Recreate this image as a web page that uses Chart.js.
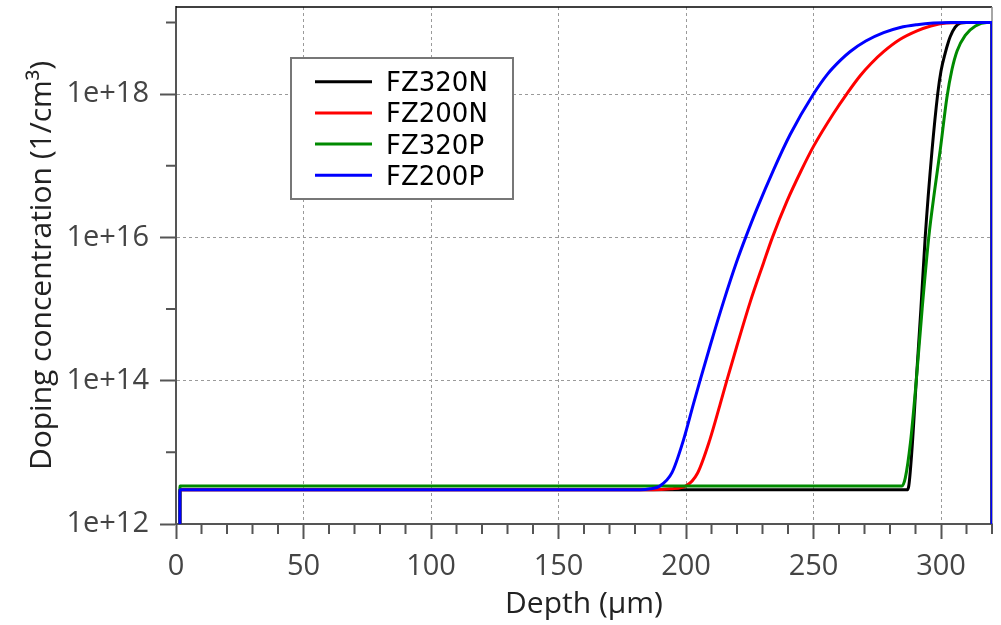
<!DOCTYPE html>
<html>
<head>
<meta charset="utf-8">
<script src="https://cdn.jsdelivr.net/npm/chart.js@4/dist/chart.umd.min.js"></script>
<style>
  body { margin: 0; background: #fff; }
  canvas { display: block; }
</style>
</head>
<body>
<canvas id="chart" width="1001" height="625"></canvas>
<script>
// series names
var seriesNames = ['FZ320N', 'FZ200N', 'FZ320P', 'FZ200P'];

// depth (um) and doping (1/cm3)
var depthFZ320N = [1.5, 1.55, 286.6, 287.3, 288.6, 290.3, 292.1, 293.8, 296.5, 298.7, 300.0, 301.7, 302.8, 303.6, 305.5, 307.6, 310, 319.95, 320];
var dopingFZ320N = [1e11, 3.0e12, 3.0e12, 3.3e12, 1.07e13, 1.0e14, 9.8e14, 1.0e16, 1.66e17, 1.0e18, 2.1e18, 3.8e18, 5.2e18, 6.3e18, 8.5e18, 9.8e18, 1.0e19, 1.0e19, 1e11];

var depthFZ200N = [1.5, 1.55, 187, 194, 200, 204.5, 209.3, 213.4, 216.0, 219.9, 225.2, 230.4, 233.9, 239.6, 245, 250.0, 257.9, 263.0, 268.3, 272.5, 277.5, 284, 290.6, 296, 302, 310, 319.95, 320];
var dopingFZ200N = [1e11, 3.0e12, 3.0e12, 3.1e12, 3.4e12, 5.1e12, 1.48e13, 4.7e13, 1.0e14, 3.0e14, 1.26e15, 4.4e15, 1.0e16, 3.2e16, 8.3e16, 1.86e17, 5.4e17, 1.0e18, 1.8e18, 2.65e18, 3.9e18, 5.8e18, 7.6e18, 8.9e18, 9.8e18, 1.0e19, 1.0e19, 1e11];

var depthFZ320P = [1.5, 1.55, 284.7, 286.0, 288.0, 290.3, 292.6, 295.2, 297.5, 299.7, 302.3, 304.3, 306.3, 309.5, 313.5, 318, 319.95, 320];
var dopingFZ320P = [1e11, 3.4e12, 3.4e12, 4.4e12, 1.35e13, 1.0e14, 1.0e15, 1.0e16, 4.5e16, 1.66e17, 8.9e17, 2.2e18, 4.0e18, 6.6e18, 8.9e18, 1.0e19, 1.0e19, 1e11];

var depthFZ200P = [1.5, 1.55, 182, 186, 189.8, 194.5, 199.0, 202.9, 205.5, 209.5, 214.7, 219.9, 223.4, 227.8, 234.3, 240.9, 250.0, 255.5, 260.5, 264.3, 270.5, 277.5, 284, 290.6, 297, 304, 319.95, 320];
var dopingFZ200P = [1e11, 3.0e12, 3.0e12, 3.1e12, 3.4e12, 5.2e12, 1.48e13, 4.7e13, 1.0e14, 3.1e14, 1.26e15, 4.6e15, 1.0e16, 2.5e16, 8.7e16, 2.75e17, 1.0e18, 1.9e18, 2.95e18, 3.9e18, 5.5e18, 7.2e18, 8.5e18, 9.3e18, 9.8e18, 1.0e19, 1.0e19, 1e11];

// axis ticks
var xTickStep = 50;
var xMinorStep = 10;
var yTickValues = [1e12, 1e14, 1e16, 1e18];
var yTickLabels = ['1e+12', '1e+14', '1e+16', '1e+18'];
var yMinorTicks = [1e13, 1e15, 1e17, 1e19];

var colors = ['#000000', '#ff0000', '#008a00', '#0000ff'];

function toPoints(xs, ys) {
    return xs.map(function(x, i) { return {x: x, y: ys[i]}; });
}

var tickFont = {family: '"Open Sans", sans-serif', size: 29};
var titleFont = {family: '"Open Sans", sans-serif', size: 30};

// frame, minor ticks and the legend box inside the plot
var decorPlugin = {
    id: 'decor',
    beforeDatasetsDraw: function(chart) {
        var ctx = chart.ctx, a = chart.chartArea;
        ctx.save();
        ctx.strokeStyle = '#000';
        ctx.lineWidth = 1.5;
        ctx.beginPath();
        ctx.moveTo(a.left, a.top);
        ctx.lineTo(a.right, a.top);
        ctx.stroke();
        ctx.strokeStyle = '#888';
        ctx.lineWidth = 1.5;
        ctx.beginPath();
        ctx.moveTo(a.right, a.top);
        ctx.lineTo(a.right, a.bottom);
        ctx.stroke();
        ctx.restore();
    },
    afterDraw: function(chart) {
        var ctx = chart.ctx, a = chart.chartArea;
        var xs = chart.scales.x, ys = chart.scales.y;
        ctx.save();
        ctx.strokeStyle = '#555';
        ctx.lineWidth = 2;
        ctx.beginPath();
        for (var v = xMinorStep; v <= xs.max; v += xMinorStep) {
            if (v % xTickStep === 0) continue;
            var px = xs.getPixelForValue(v);
            ctx.moveTo(px, a.bottom);
            ctx.lineTo(px, a.bottom + 10);
        }
        yMinorTicks.forEach(function(t) {
            var py = ys.getPixelForValue(t);
            ctx.moveTo(a.left - 10, py);
            ctx.lineTo(a.left, py);
        });
        ctx.stroke();

        // legend
        var bx = 291, by = 58, bw = 222, bh = 141;
        ctx.fillStyle = '#fff';
        ctx.fillRect(bx, by, bw, bh);
        ctx.strokeStyle = '#777';
        ctx.lineWidth = 2;
        ctx.strokeRect(bx, by, bw, bh);
        ctx.font = '26px "DejaVu Sans", sans-serif';
        ctx.textBaseline = 'alphabetic';
        ctx.textAlign = 'left';
        chart.data.datasets.forEach(function(ds, i) {
            var cy = 81.7 + i * 31.2;
            ctx.strokeStyle = ds.borderColor;
            ctx.lineWidth = 3;
            ctx.beginPath();
            ctx.moveTo(315, cy);
            ctx.lineTo(372, cy);
            ctx.stroke();
            ctx.fillStyle = '#000';
            ctx.fillText(ds.label, 386, cy + 9.5);
        });
        ctx.restore();
    }
};

var ctx = document.getElementById('chart').getContext('2d');
var chart = new Chart(ctx, {
    type: 'line',
    data: {
        datasets: [
            {label: seriesNames[0], data: toPoints(depthFZ320N, dopingFZ320N), borderColor: colors[0], order: 4},
            {label: seriesNames[1], data: toPoints(depthFZ200N, dopingFZ200N), borderColor: colors[1], order: 3},
            {label: seriesNames[2], data: toPoints(depthFZ320P, dopingFZ320P), borderColor: colors[2], order: 2},
            {label: seriesNames[3], data: toPoints(depthFZ200P, dopingFZ200P), borderColor: colors[3], order: 1}
        ].map(function(d) {
            d.borderWidth = 3;
            d.pointRadius = 0;
            d.cubicInterpolationMode = 'monotone';
            d.fill = false;
            return d;
        })
    },
    options: {
        responsive: false,
        animation: false,
        layout: {padding: {top: 7, right: 9, left: 0, bottom: 0}},
        plugins: {
            legend: {display: false},
            tooltip: {enabled: false}
        },
        scales: {
            x: {
                type: 'linear',
                min: 0,
                max: 320,
                ticks: {stepSize: xTickStep, includeBounds: false, font: tickFont, color: '#444', padding: 10, maxRotation: 0},
                grid: {color: '#9a9a9a', lineWidth: 1, tickLength: 15, tickColor: '#555', tickWidth: 2},
                border: {color: '#555', width: 2, dash: [3, 3]},
                title: {display: true, text: 'Depth (µm)', font: titleFont, color: '#222', padding: {top: 0, bottom: 3}},
                afterFit: function(s) {
                    s.height = 101;
                    s.paddingLeft = 0;
                    s.paddingRight = 0;
                }
            },
            y: {
                type: 'logarithmic',
                min: 1e12,
                max: 1.64e19,
                afterBuildTicks: function(s) {
                    s.ticks = yTickValues.map(function(v) { return {value: v}; });
                },
                ticks: {
                    font: tickFont, color: '#444', padding: 11,
                    callback: function(value) {
                        var i = yTickValues.indexOf(value);
                        return i >= 0 ? yTickLabels[i] : '';
                    }
                },
                grid: {color: '#9a9a9a', lineWidth: 1, tickLength: 16, tickColor: '#555', tickWidth: 2},
                border: {color: '#555', width: 2, dash: [3, 3]},
                title: {display: true, text: 'Doping concentration (1/cm³)', font: titleFont, color: '#222', padding: {top: 24, bottom: 0}},
                afterFit: function(s) {
                    s.width = 176;
                    s.paddingTop = 0;
                    s.paddingBottom = 0;
                }
            }
        }
    },
    plugins: [decorPlugin]
});
</script>
</body>
</html>
